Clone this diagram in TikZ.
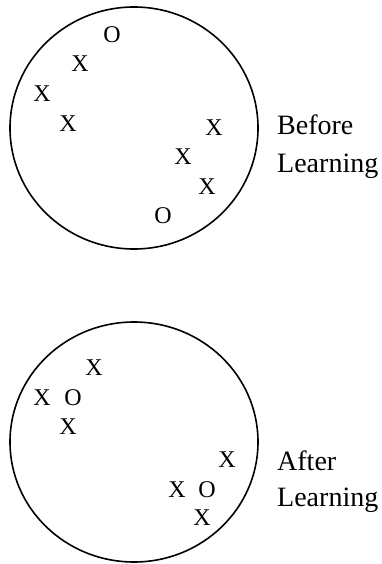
\documentclass[tikz,border=0pt]{standalone}
\usepackage{fontspec}
\setmainfont{Liberation Serif}
\tikzset{
  pt/.style={font=\fontsize{24}{24}\selectfont, inner sep=0pt},
  lbl/.style={font=\fontsize{28}{28}\selectfont, inner sep=0pt, anchor=base west},
  ring/.style={line width=1.6pt}
}
\begin{document}
\begin{tikzpicture}[x=1pt,y=-1pt]
\useasboundingbox (0,0) rectangle (381,564);

% --- Prima dell'apprendimento ---
\draw[ring] (134,128) ellipse (124 and 121);
\node[pt] (bo1) at (112,35) {O};
\node[pt] (bx1) at (80,64) {X};
\node[pt] (bx2) at (42,94) {X};
\node[pt] (bx3) at (68,124) {X};
\node[pt] (bx4) at (214,128) {X};
\node[pt] (bx5) at (183,157) {X};
\node[pt] (bx6) at (207,187) {X};
\node[pt] (bo2) at (163,216) {O};
\node[lbl] (before) at (277,135) {Before};
\node[lbl] (blearn) at (277,172) {Learning};

% --- Dopo l'apprendimento ---
\draw[ring] (134,442) ellipse (124 and 120);
\node[pt] (ax1) at (94,368) {X};
\node[pt] (ax2) at (42,398) {X};
\node[pt] (ao1) at (73,398) {O};
\node[pt] (ax3) at (68,427) {X};
\node[pt] (ax4) at (227,460) {X};
\node[pt] (ax5) at (177,490) {X};
\node[pt] (ao2) at (207,490) {O};
\node[pt] (ax6) at (202,518) {X};
\node[lbl] (after) at (277,470) {After};
\node[lbl] (alearn) at (277,506) {Learning};

\end{tikzpicture}
\end{document}
